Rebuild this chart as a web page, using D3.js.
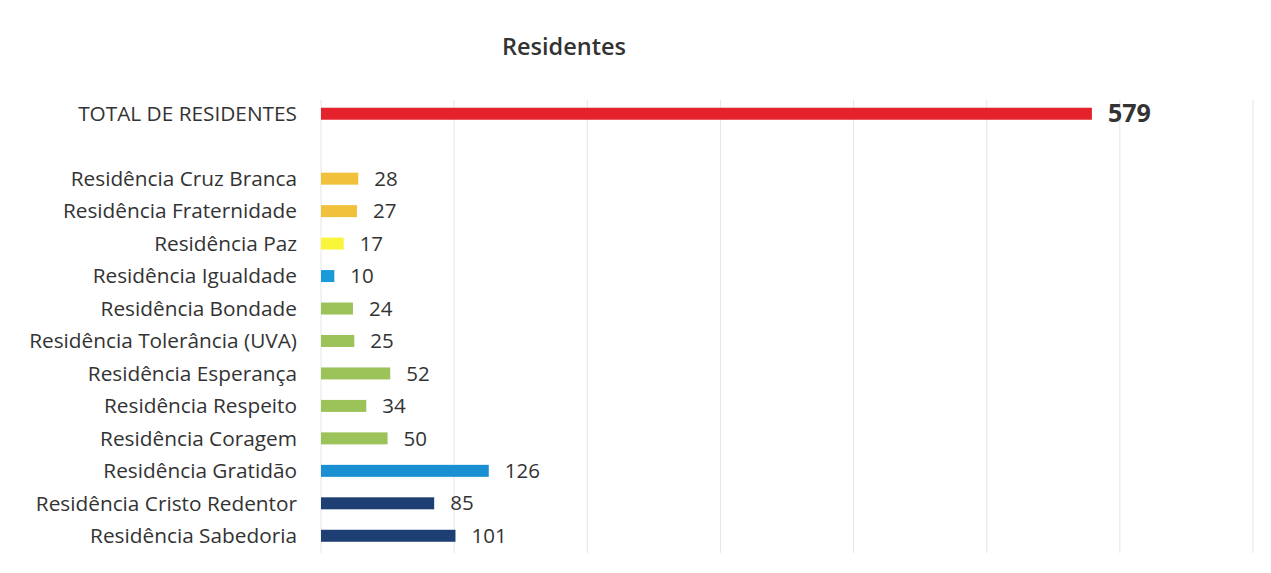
<!DOCTYPE html>
<html><head><meta charset="utf-8">
<script src="https://cdn.jsdelivr.net/npm/d3@7"></script>
<style>body{margin:0;background:#fff}svg{display:block}</style>
</head><body>
<svg id="c" width="1271" height="573"></svg>
<script>
const categories = ["TOTAL DE RESIDENTES","","Residência Cruz Branca","Residência Fraternidade","Residência Paz","Residência Igualdade","Residência Bondade","Residência Tolerância (UVA)","Residência Esperança","Residência Respeito","Residência Coragem","Residência Gratidão","Residência Cristo Redentor","Residência Sabedoria"];
const values = [579,null,28,27,17,10,24,25,52,34,50,126,85,101];
const barColors = ["#e5222b",null,"#f2c13c","#f2c13c","#f9f53a","#1a9ad6","#9cc25a","#9cc25a","#9cc25a","#9cc25a","#9cc25a","#1a8fd2","#1d3f73","#1d3f73"];
const xTicks = [0,100,200,300,400,500,600,700];
const title = "Residentes";

const svg = d3.select("#c");
const font = "'Open Sans', 'Noto Sans', sans-serif";
const x = d3.scaleLinear().domain([0,700]).range([321,1253]);
const y = d3.scaleBand().domain(categories.map((d,i)=>i)).range([97.5,552]).paddingInner(0.63).paddingOuter(0.315);

svg.append("g").selectAll("line").data(xTicks).join("line")
  .attr("x1",d=>x(d)).attr("x2",d=>x(d)).attr("y1",100).attr("y2",553)
  .attr("stroke","#e6e6e6").attr("stroke-width",1);

svg.append("text").attr("x",564).attr("y",55).attr("text-anchor","middle")
  .attr("font-family",font).attr("font-size",23.5).attr("font-weight",600).attr("fill","#333").text(title);

const rows = categories.map((c,i)=>({c,v:values[i],col:barColors[i],i})).filter(d=>d.v!=null);

svg.append("g").selectAll("rect").data(rows).join("rect")
  .attr("x",x(0)).attr("y",d=>y(d.i)+y.bandwidth()/2-6)
  .attr("width",d=>x(d.v)-x(0)).attr("height",12).attr("fill",d=>d.col);

svg.append("g").selectAll("text").data(rows).join("text")
  .attr("x",297).attr("y",d=>y(d.i)+y.bandwidth()/2).attr("dy","0.35em")
  .attr("text-anchor","end").attr("font-family",font).attr("font-size",20.8).attr("fill","#333")
  .text(d=>d.c);

svg.append("g").selectAll("text").data(rows).join("text")
  .attr("x",d=>x(d.v)+16).attr("y",d=>y(d.i)+y.bandwidth()/2).attr("dy","0.35em")
  .attr("font-family",font).attr("font-size",d=>d.i===0?25:20.5).attr("font-weight",d=>d.i===0?700:400).attr("fill","#333")
  .text(d=>d.v);
</script>
</body></html>
